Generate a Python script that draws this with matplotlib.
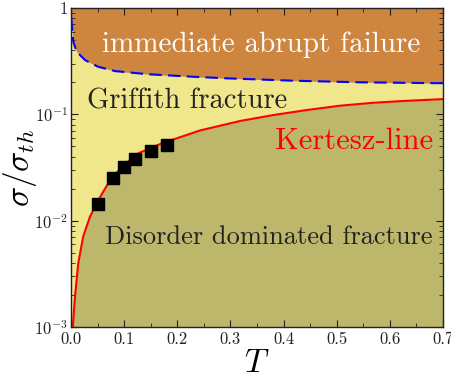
import numpy as np
import matplotlib
matplotlib.use("Agg")
import matplotlib.pyplot as plt
from matplotlib.ticker import MultipleLocator, FixedLocator, FixedFormatter, LogLocator, NullFormatter

plt.rcParams['font.family'] = 'cmr10'
plt.rcParams['mathtext.fontset'] = 'cm'
plt.rcParams['axes.formatter.use_mathtext'] = True

# Kertesz line (red)
kertesz_T = [0.0035, 0.0075, 0.0138, 0.023, 0.0358, 0.0514, 0.070, 0.0954,
             0.1267, 0.1707, 0.2427, 0.318, 0.381, 0.4435, 0.506, 0.569, 0.632, 0.70]
kertesz_s = [0.001, 0.00192, 0.0040, 0.0071, 0.0109, 0.0156, 0.0224, 0.0322,
             0.043, 0.0533, 0.0705, 0.0865, 0.0985, 0.1097, 0.1205, 0.1285, 0.134, 0.139]

# upper boundary (blue dashed)
upper_T = [0.0005, 0.0013, 0.0044, 0.0107, 0.0263, 0.051, 0.083, 0.1455,
           0.227, 0.293, 0.4186, 0.544, 0.70]
upper_s = [0.80, 0.718, 0.48, 0.388, 0.324, 0.28, 0.255, 0.238,
           0.226, 0.218, 0.207, 0.200, 0.196]

# simulation points (black squares)
sim_T = [0.05, 0.08, 0.10, 0.12, 0.15, 0.18]
sim_s = [0.0143, 0.025, 0.032, 0.038, 0.045, 0.051]

fig = plt.figure(figsize=(4.52, 3.79), dpi=100)
ax = fig.add_axes([0.157, 0.137, 0.823, 0.842])
ax.set_yscale('log')
ax.set_xlim(0, 0.7)
ax.set_ylim(1e-3, 1)
ax.set_facecolor('#F0E68C')

ax.fill_between(kertesz_T + [0.7], kertesz_s + [kertesz_s[-1]], 1e-3,
                color='#BDB76B', lw=0)
ax.fill_between([0.0] + upper_T, [1.0] + upper_s, 1.0, color='#CD853F', lw=0)

ax.plot(kertesz_T, kertesz_s, color='red', lw=1.5)
ax.plot(upper_T, upper_s, color='blue', lw=1.5, ls=(0, (6, 3)))
ax.plot(sim_T, sim_s, 's', color='black', ms=8)

ax.text(0.058, 0.385, 'immediate abrupt failure', color='white', fontsize=21,
        ha='left', va='baseline')
ax.text(0.030, 0.1146, 'Griffith fracture', color='#222222', fontsize=20.5,
        ha='left', va='baseline')
ax.text(0.681, 0.0472, 'Kertesz-line', color='red', fontsize=22,
        ha='right', va='baseline')
ax.text(0.064, 0.00603, 'Disorder dominated fracture', color='#222222', fontsize=19,
        ha='left', va='baseline')

ax.xaxis.set_major_locator(MultipleLocator(0.1))
ax.xaxis.set_minor_locator(MultipleLocator(0.05))
ax.xaxis.set_major_formatter(plt.FuncFormatter(lambda v, p: '%.1f' % v))
ax.yaxis.set_major_locator(FixedLocator([1e-3, 1e-2, 1e-1, 1]))
ax.yaxis.set_major_formatter(FixedFormatter(['$10^{-3}$', '$10^{-2}$', '$10^{-1}$', '$1$']))
ax.yaxis.set_minor_locator(LogLocator(base=10, subs=np.arange(2, 10)))
ax.yaxis.set_minor_formatter(NullFormatter())
ax.tick_params(which='both', direction='in', top=True, right=True,
               labelsize=12, colors='#222222')
ax.tick_params(which='major', length=5, width=0.8)
ax.tick_params(which='minor', length=3, width=0.6)
ax.tick_params(axis='y', pad=2)
for s in ax.spines.values():
    s.set_linewidth(1.0)
    s.set_color('#222222')

ax.set_xlabel('$T$', fontsize=24, labelpad=1)
ax.set_ylabel(r'$\sigma/\sigma_{th}$', fontsize=24)
ax.yaxis.set_label_coords(-0.085, 0.5)

fig.savefig('out.png', dpi=100)
